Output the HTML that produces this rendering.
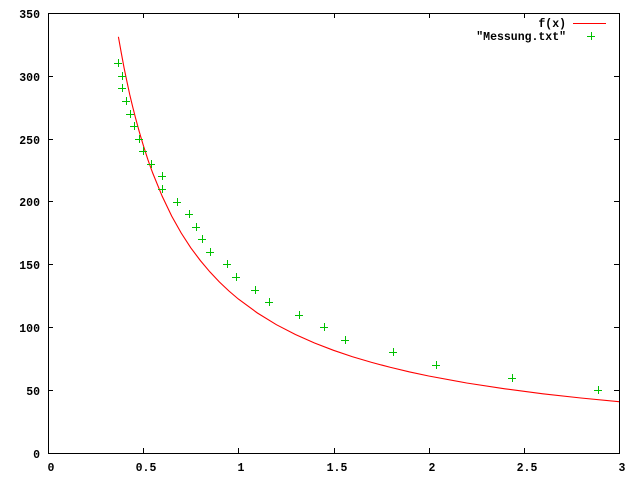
<!DOCTYPE html>
<html><head><meta charset="utf-8"><style>
html,body{margin:0;padding:0;background:#fff;}
svg{display:block;}
text{font-family:"Liberation Mono","DejaVu Sans Mono",monospace;font-weight:bold;font-size:11.5px;fill:#000;}
</style></head><body>
<svg width="640" height="480" viewBox="0 0 640 480" xmlns="http://www.w3.org/2000/svg">
<rect x="0" y="0" width="640" height="480" fill="#fff"/>
<g stroke="#000" stroke-width="1" fill="none" shape-rendering="crispEdges">
<rect x="48.5" y="13.5" width="571" height="440"/>
<!-- y ticks left and right -->
<path d="M48 453.5h5M619 453.5h-5M48 390.5h5M619 390.5h-5M48 327.5h5M619 327.5h-5M48 264.5h5M619 264.5h-5M48 201.5h5M619 201.5h-5M48 139.5h5M619 139.5h-5M48 76.5h5M619 76.5h-5M48 13.5h5M619 13.5h-5"/>
<!-- x ticks bottom and top -->
<path d="M48.5 453v-5M48.5 13v5M143.5 453v-5M143.5 13v5M238.5 453v-5M238.5 13v5M334.5 453v-5M334.5 13v5M429.5 453v-5M429.5 13v5M524.5 453v-5M524.5 13v5M619.5 453v-5M619.5 13v5"/>
</g>
<g text-anchor="end">
<text x="40" y="458">0</text>
<text x="40" y="395">50</text>
<text x="40" y="332">100</text>
<text x="40" y="269">150</text>
<text x="40" y="206">200</text>
<text x="40" y="144">250</text>
<text x="40" y="81">300</text>
<text x="40" y="18">350</text>
</g>
<g text-anchor="middle">
<text x="51" y="471">0</text>
<text x="146" y="471">0.5</text>
<text x="241" y="471">1</text>
<text x="337" y="471">1.5</text>
<text x="432" y="471">2</text>
<text x="527" y="471">2.5</text>
<text x="622" y="471">3</text>
</g>
<!-- legend -->
<text x="566" y="27" text-anchor="end">f(x)</text>
<text x="566" y="40" text-anchor="end">"Messung.txt"</text>
<path d="M573 23.5h33" stroke="#ff0000" stroke-width="1" shape-rendering="crispEdges"/>
<path d="M587 36.5h8M591.5 32v8" stroke="#00c000" stroke-width="1" shape-rendering="crispEdges"/>
<!-- curve -->
<polyline fill="none" stroke="#ff0000" stroke-width="1.1" points="118.4,36.8 121.3,53.0 124.1,68.0 127.0,81.9 129.8,94.9 132.7,106.9 135.6,118.2 139.4,132.2 143.2,145.0 147.9,159.7 152.7,173.0 162.2,196.3 171.7,216.1 181.2,233.0 190.7,247.7 200.3,260.5 209.8,271.8 219.3,281.9 228.8,290.9 238.3,299.0 257.4,313.0 276.4,324.7 295.4,334.5 314.5,343.0 333.5,350.3 352.5,356.75 371.6,362.4 390.6,367.4 409.6,371.95 428.7,376.0 466.7,383.0 504.8,388.8 542.9,393.8 580.9,398.0 619,401.7"/>
<!-- data points -->
<path stroke="#00c000" stroke-width="1" fill="none" shape-rendering="crispEdges" d="
M114 63.5h8M118.5 59v8
M118 76.5h8M122.5 72v8
M118 88.5h8M122.5 84v8
M122 101.5h8M126.5 97v8
M126 114.5h8M130.5 110v8
M130 126.5h8M134.5 122v8
M135 139.5h8M139.5 135v8
M139 151.5h8M143.5 147v8
M147 164.5h8M151.5 160v8
M158 176.5h8M162.5 172v8
M158 189.5h8M162.5 185v8
M173 202.5h8M177.5 198v8
M185 214.5h8M189.5 210v8
M192 227.5h8M196.5 223v8
M198 239.5h8M202.5 235v8
M206 252.5h8M210.5 248v8
M223 264.5h8M227.5 260v8
M232 277.5h8M236.5 273v8
M251 290.5h8M255.5 286v8
M265 302.5h8M269.5 298v8
M295 315.5h8M299.5 311v8
M320 327.5h8M324.5 323v8
M341 340.5h8M345.5 336v8
M389 352.5h8M393.5 348v8
M432 365.5h8M436.5 361v8
M508 378.5h8M512.5 374v8
M594 390.5h8M598.5 386v8"/>
</svg>
</body></html>
